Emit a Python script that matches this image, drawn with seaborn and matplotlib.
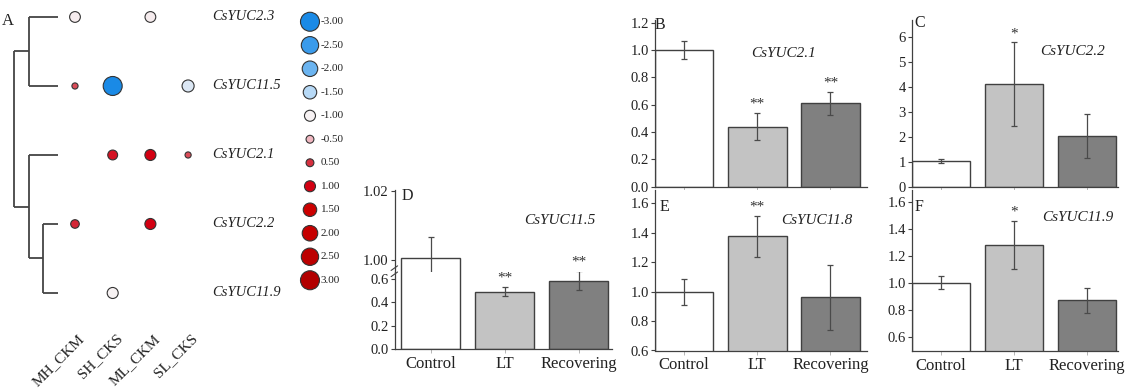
import numpy as np
import pandas as pd
import matplotlib
matplotlib.use("Agg")
import matplotlib.pyplot as plt
import seaborn as sns
from matplotlib.colors import LinearSegmentedColormap
from matplotlib.ticker import FormatStrFormatter

sns.set_style("white")
plt.rcParams["font.family"] = ["Liberation Serif", "DejaVu Serif"]
plt.rcParams["mathtext.fontset"] = "custom"

# ---------------- data: panel A (bubble heat map) ----------------
genes = ["CsYUC2.3", "CsYUC11.5", "CsYUC2.1", "CsYUC2.2", "CsYUC11.9"]
samples = ["MH_CKM", "SH_CKS", "ML_CKM", "SL_CKS"]
nan = np.nan
fold_CsYUC2_3 = [-0.95, nan, -0.95, nan]
fold_CsYUC11_5 = [0.3, -3.0, nan, -1.2]
fold_CsYUC2_1 = [nan, 0.8, 1.0, 0.3]
fold_CsYUC2_2 = [0.6, nan, 1.0, nan]
fold_CsYUC11_9 = [nan, -1.0, nan, nan]
legend_vals = [-3.0, -2.5, -2.0, -1.5, -1.0, -0.5, 0.5, 1.0, 1.5, 2.0, 2.5, 3.0]
# dendrogram merges (scipy-like: leaves 0..4, new clusters 5..8)
merges = [(0, 1, 2.0), (3, 4, 1.0), (2, 6, 2.0), (5, 7, 3.0)]

# ---------------- data: bar panels ----------------
conditions = ["Control", "LT", "Recovering"]
B_mean = [1.00, 0.44, 0.61]
B_err = [0.065, 0.10, 0.085]
B_sig = ["", "**", "**"]
C_mean = [1.02, 4.10, 2.04]
C_err = [0.07, 1.68, 0.88]
C_sig = ["", "*", ""]
D_mean = [1.0006, 0.49, 0.585]
D_err = [0.006, 0.04, 0.085]
D_sig = ["", "**", "**"]
E_mean = [1.00, 1.375, 0.96]
E_err = [0.088, 0.14, 0.222]
E_sig = ["", "**", ""]
F_mean = [1.00, 1.28, 0.87]
F_err = [0.05, 0.18, 0.092]
F_sig = ["", "*", ""]

bar_colors = ["#FFFFFF", "#C3C3C3", "#808080"]
edge = "#404040"
txt = "#222222"

W, H = 1128, 392
fig = plt.figure(figsize=(W / 100, H / 100), dpi=100)


def px_axes(l, t, r, b):
    return fig.add_axes([l / W, 1 - b / H, (r - l) / W, (b - t) / H])


# ---------------- panel A ----------------
cmap = LinearSegmentedColormap.from_list(
    "bubble",
    [(0.0, "#1A8AE6"), (0.5 / 6, "#3A9BEB"), (1 / 6, "#6CB5F0"), (1.5 / 6, "#B6D9F6"),
     (2 / 6, "#F7F2F3"), (2.5 / 6, "#F0B6BF"), (3.5 / 6, "#D6303F"), (4 / 6, "#D30012"),
     (4.5 / 6, "#CC0000"), (5 / 6, "#C60000"), (5.5 / 6, "#BC0000"), (1.0, "#B20000")])

fold = [fold_CsYUC2_3, fold_CsYUC11_5, fold_CsYUC2_1, fold_CsYUC2_2, fold_CsYUC11_9]
rows = []
for gi, g in enumerate(genes):
    for si, s in enumerate(samples):
        v = fold[gi][si]
        if not np.isnan(v):
            rows.append({"gene": g, "sample": s, "col": si, "row": gi, "value": v, "mag": abs(v)})
dots = pd.DataFrame(rows)

ylim_A = (5.435, -0.246)
axA = px_axes(0, 0, 290, 392)
sns.scatterplot(data=dots, x="col", y="row", hue="value", size="mag", palette=cmap,
                hue_norm=(-3, 3), sizes=(1, 187), size_norm=(0, 3), edgecolor="#333333",
                linewidth=0.8, legend=False, ax=axA, zorder=3)
axA.set_xlim(-1.989, 5.703)
axA.set_ylim(*ylim_A)
axA.axis("off")
for gi, g in enumerate(genes):
    axA.text(3.634, gi, g, ha="left", va="center", style="italic", fontsize=10.5, color=txt)
for si, s in enumerate(samples):
    axA.text(si + 0.2, 4.63, s, rotation=45, rotation_mode="anchor", ha="right", va="center",
             fontsize=11, color=txt)
axA.text(0.008, 0.947, "A", transform=axA.transAxes, fontsize=12, color=txt, ha="left", va="center")

# dendrogram
axT = px_axes(0, 0, 60, 392)
axT.set_xlim(4.0, -0.138)
axT.set_ylim(*ylim_A)
axT.axis("off")
nodes = {i: (float(i), 0.0) for i in range(len(genes))}
for k, (a, b, h) in enumerate(merges):
    ya, ha_ = nodes[a]
    yb, hb = nodes[b]
    axT.plot([ha_, h], [ya, ya], color="#444444", lw=1.3, solid_capstyle="butt")
    axT.plot([hb, h], [yb, yb], color="#444444", lw=1.3, solid_capstyle="butt")
    axT.plot([h, h], [ya, yb], color="#444444", lw=1.3, solid_capstyle="butt")
    nodes[len(genes) + k] = ((ya + yb) / 2, h)

# legend column
axL = px_axes(290, 10, 380, 292)
leg = pd.DataFrame({"idx": range(len(legend_vals)), "value": legend_vals,
                    "mag": np.abs(legend_vals), "x": 0.222})
sns.scatterplot(data=leg, x="x", y="idx", hue="value", size="mag", palette=cmap, hue_norm=(-3, 3),
                sizes=(1, 187), size_norm=(0, 3), edgecolor="#333333", linewidth=0.8,
                legend=False, ax=axL, zorder=3)
axL.set_xlim(0, 1)
axL.set_ylim(11.5, -0.5)
axL.axis("off")
for i, v in enumerate(legend_vals):
    axL.text(0.34, i, f"{v:.2f}", ha="left", va="center", fontsize=8, color=txt)


# ---------------- bar panels ----------------
def style_axes(ax):
    sns.despine(ax=ax)
    for sp in ["left", "bottom"]:
        ax.spines[sp].set_color(edge)
        ax.spines[sp].set_linewidth(0.9)
    ax.tick_params(axis="y", direction="out", length=3, width=0.8, color=edge,
                   labelsize=10.5, labelcolor=txt, pad=1.5, left=True)
    ax.tick_params(axis="x", direction="out", length=3, width=0.6, color="#AAAAAA",
                   labelsize=12, labelcolor=txt, pad=2, bottom=True)
    ax.set_xlabel("")
    ax.set_ylabel("")
    ax.grid(False)


def draw_bars(ax, means, errs, sig, star_ax=None):
    df = pd.DataFrame({"cond": conditions, "mean": means})
    sns.barplot(data=df, x="cond", y="mean", hue="cond", palette=bar_colors, legend=False,
                width=0.8, edgecolor=edge, linewidth=1.0, errorbar=None, ax=ax, zorder=2)
    ax.errorbar(range(len(conditions)), means, yerr=errs, fmt="none", ecolor="#4A4A4A",
                elinewidth=0.9, capsize=2, capthick=0.9, zorder=3)
    target = star_ax if star_ax is not None else ax
    for i, s in enumerate(sig):
        if s:
            target.annotate(s, (i, means[i] + errs[i]), xytext=(0, 1.5), textcoords="offset points",
                            ha="center", va="bottom", fontsize=11, color="#333333",
                            annotation_clip=False)


def bar_panel(box, means, errs, sig, ylim, yticks, fmt, xlim, title, title_xy, letter, letter_xy,
              xlabels):
    ax = px_axes(*box)
    draw_bars(ax, means, errs, sig)
    style_axes(ax)
    ax.set_xlim(*xlim)
    ax.set_ylim(*ylim)
    ax.set_yticks(yticks)
    ax.yaxis.set_major_formatter(FormatStrFormatter(fmt))
    if not xlabels:
        ax.set_xticklabels([])
    ax.text(*title_xy, title, transform=ax.transAxes, style="italic", fontsize=11,
            ha="center", va="center", color=txt)
    ax.text(*letter_xy, letter, transform=ax.transAxes, fontsize=11.5, ha="left",
            va="center", color=txt)
    return ax


bar_panel((655, 20, 867, 186.7), B_mean, B_err, B_sig, (0, 1.22), [0, 0.2, 0.4, 0.6, 0.8, 1.0, 1.2],
          "%.1f", (-0.4, 2.5), "CsYUC2.1", (0.604, 0.80), "B", (0.0, 0.97), False)
bar_panel((912, 20, 1118, 186.7), C_mean, C_err, C_sig, (0, 6.67), [0, 1, 2, 3, 4, 5, 6],
          "%d", (-0.4, 2.43), "CsYUC2.2", (0.777, 0.81), "C", (0.01, 0.98), False)
bar_panel((655, 190, 867, 350.5), E_mean, E_err, E_sig, (0.6, 1.69),
          [0.6, 0.8, 1.0, 1.2, 1.4, 1.6], "%.1f", (-0.4, 2.5), "CsYUC11.8", (0.764, 0.813),
          "E", (0.02, 0.894), True)
bar_panel((912, 190, 1118, 350.7), F_mean, F_err, F_sig, (0.496, 1.687),
          [0.6, 0.8, 1.0, 1.2, 1.4, 1.6], "%.1f", (-0.4, 2.43), "CsYUC11.9", (0.806, 0.826),
          "F", (0.015, 0.894), True)

# panel D: broken axis
axDu = px_axes(395, 190, 612, 272)
axDl = px_axes(395, 272, 612, 349)
draw_bars(axDu, D_mean, D_err, ["", "", ""])
draw_bars(axDl, D_mean, D_err, D_sig)
for ax in (axDu, axDl):
    style_axes(ax)
    ax.set_xlim(-0.48, 2.45)
axDu.set_ylim(0.99657, 1.0202)
axDu.set_yticks([1.00, 1.02])
axDu.yaxis.set_major_formatter(FormatStrFormatter("%.2f"))
axDu.spines["bottom"].set_visible(False)
axDu.tick_params(axis="x", bottom=False, labelbottom=False)
axDl.set_ylim(0, 0.658)
axDl.set_yticks([0, 0.2, 0.4, 0.6])
axDl.yaxis.set_major_formatter(FormatStrFormatter("%.1f"))
axDu.text(0.03, 0.927, "D", transform=axDu.transAxes, fontsize=11.5, ha="left", va="center",
          color=txt)
axDu.text(0.76, 0.634, "CsYUC11.5", transform=axDu.transAxes, style="italic", fontsize=11,
          ha="center", va="center", color=txt)
# break marks on the left spine
for dy in (-0.03, 0.05):
    axDl.plot([-0.018, 0.012], [1.0 + dy - 0.03, 1.0 + dy + 0.03], transform=axDl.transAxes,
              color=edge, lw=0.8, clip_on=False, zorder=5)

fig.savefig("out.png", dpi=100, facecolor="white")
